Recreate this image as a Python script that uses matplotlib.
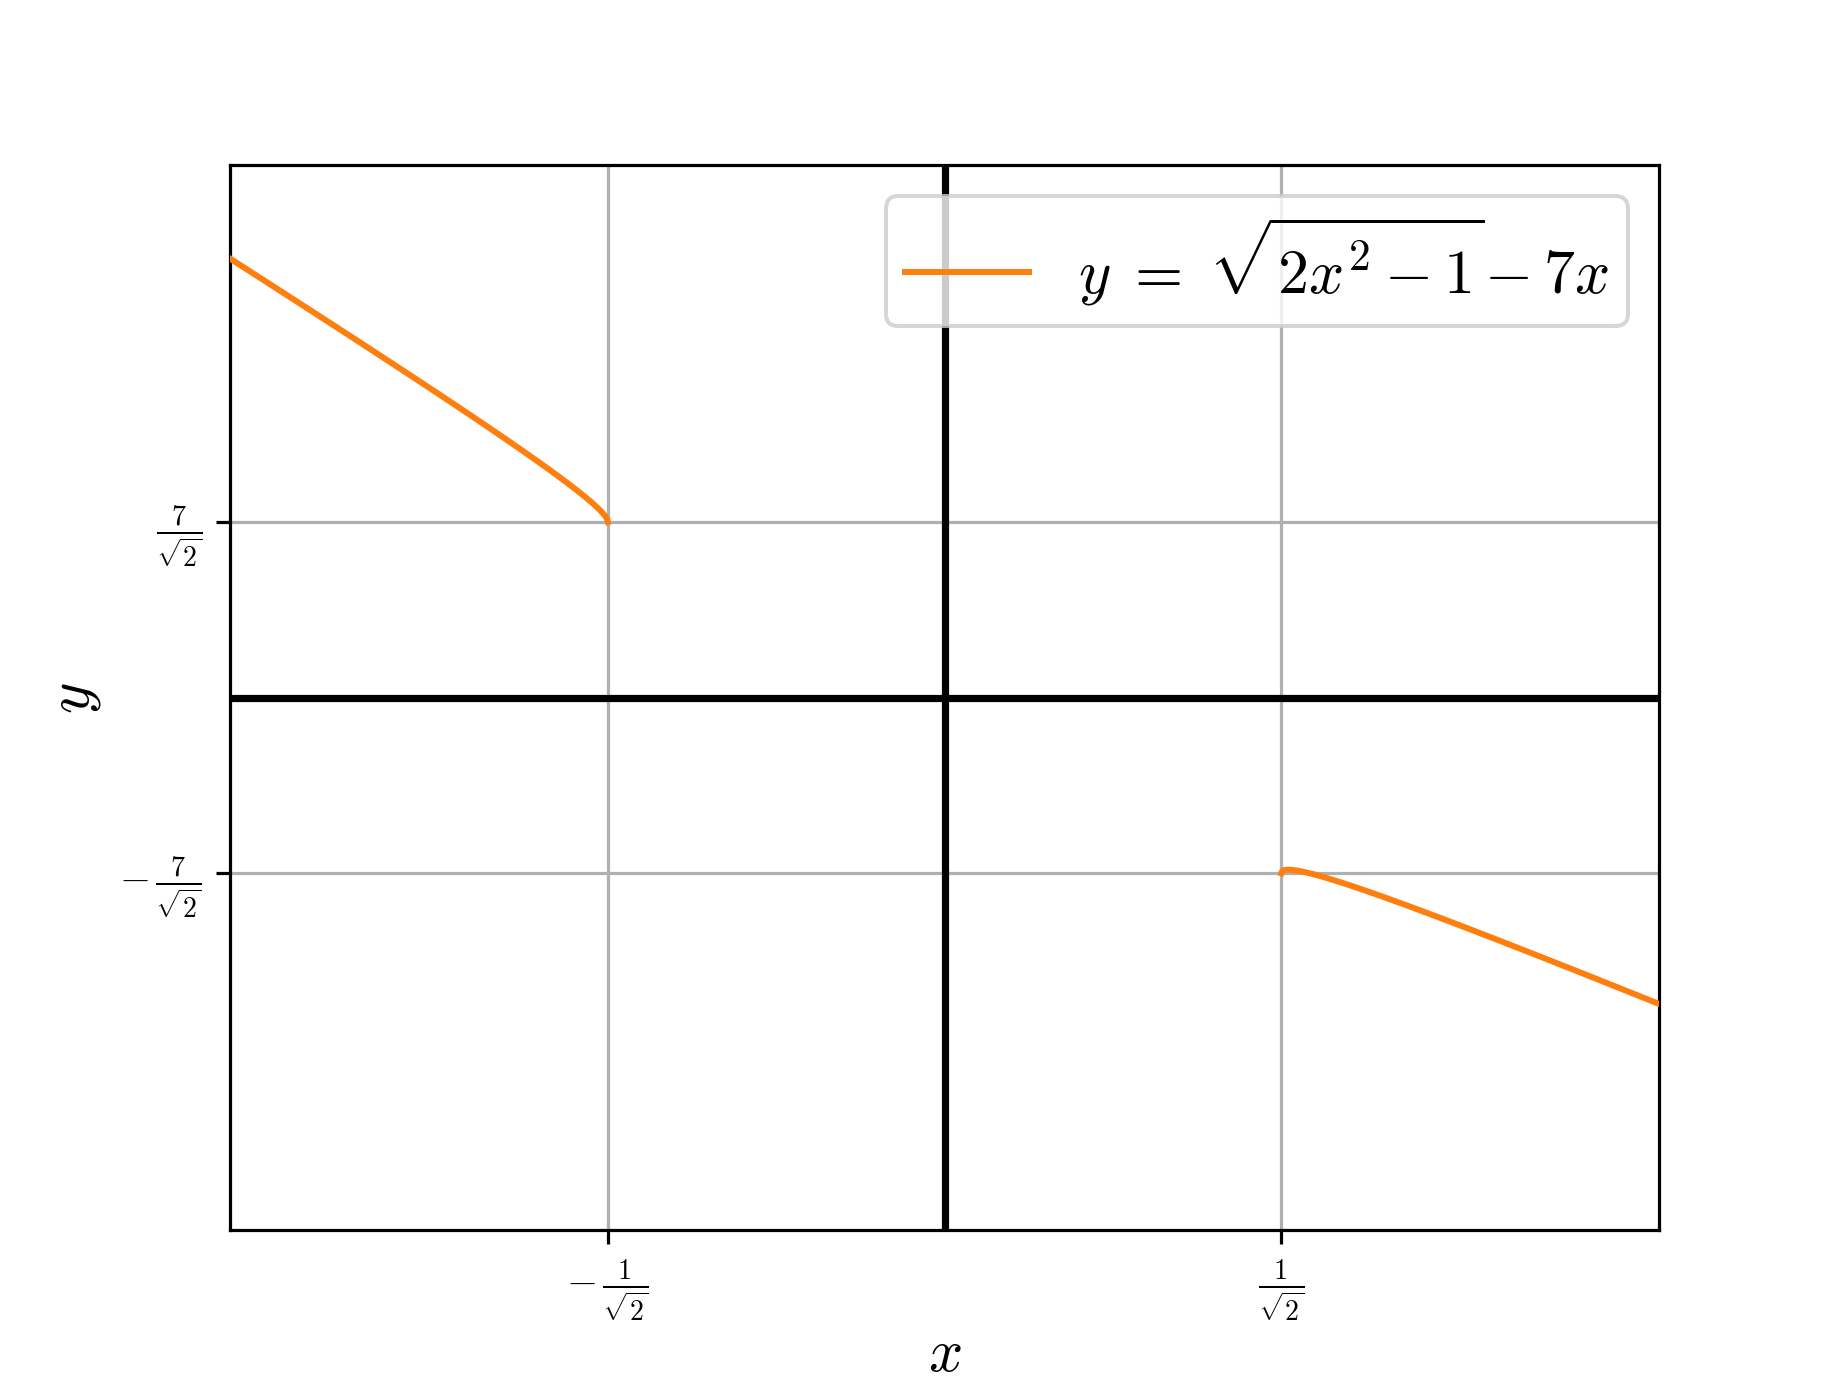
import numpy as np
import matplotlib
matplotlib.use("Agg")
import matplotlib.pyplot as plt

plt.rcParams['mathtext.fontset'] = 'cm'
plt.rcParams['font.family'] = 'serif'
plt.rcParams['font.serif'] = ['DejaVu Serif']

x_ticks = [-1 / np.sqrt(2), 1 / np.sqrt(2)]
x_tick_labels = [r'$-\,\frac{1}{\sqrt{2}}$', r'$\frac{1}{\sqrt{2}}$']
y_ticks = [-7 / np.sqrt(2), 7 / np.sqrt(2)]
y_tick_labels = [r'$-\,\frac{7}{\sqrt{2}}$', r'$\frac{7}{\sqrt{2}}$']
x_lim = (-1.5, 1.5)
y_lim = (-15, 15)

x_left = np.linspace(-1.5, -1 / np.sqrt(2), 600)
x_right = np.linspace(1 / np.sqrt(2), 1.5, 600)
y_left = np.sqrt(np.clip(2 * x_left**2 - 1, 0, None)) - 7 * x_left
y_right = np.sqrt(np.clip(2 * x_right**2 - 1, 0, None)) - 7 * x_right

fig, ax = plt.subplots(figsize=(6.4, 4.8), dpi=288)
ax.axhline(0, color='black', lw=1.8, zorder=2)
ax.axvline(0, color='black', lw=1.8, zorder=2)
ax.plot(x_left, y_left, color='#ff7f0e', lw=1.5,
        label=r'$y\;=\;\sqrt{2x^2-1}\!-7x$', zorder=3)
ax.plot(x_right, y_right, color='#ff7f0e', lw=1.5, zorder=3)
ax.set_xlim(*x_lim)
ax.set_ylim(*y_lim)
ax.set_xticks(x_ticks)
ax.set_xticklabels(x_tick_labels, fontsize=10)
ax.set_yticks(y_ticks)
ax.set_yticklabels(y_tick_labels, fontsize=10)
ax.grid(True, zorder=0)
ax.set_xlabel(r'$x$', fontsize=15, labelpad=0)
ax.set_ylabel(r'$y$', fontsize=15)
ax.legend(loc='upper right', fontsize=15.5, borderpad=0.3)
fig.savefig('out.png', dpi=288)
